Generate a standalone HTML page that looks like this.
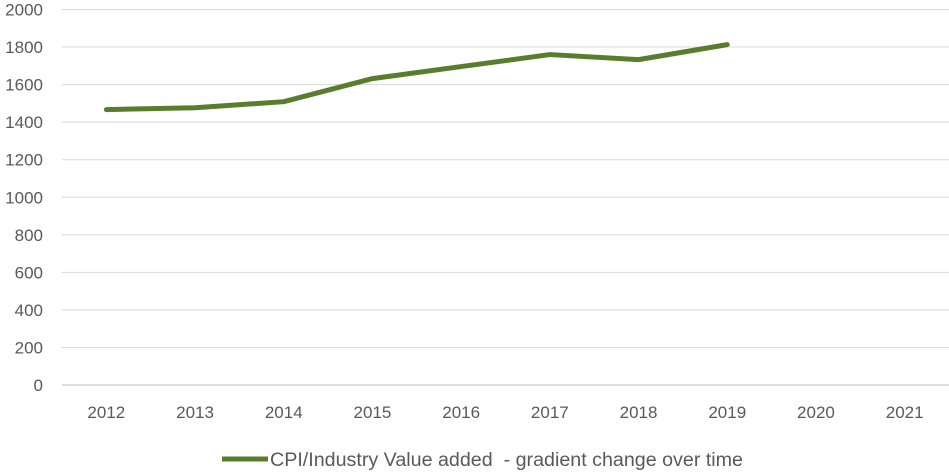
<!DOCTYPE html>
<html><head><meta charset="utf-8"><style>
html,body{margin:0;padding:0;background:#fff;}
svg text{font-family:"Liberation Sans",sans-serif;fill:#595959;font-size:17px;}
</style></head><body>
<svg id="chart" width="949" height="470"></svg>
<script>
const categories=["2012","2013","2014","2015","2016","2017","2018","2019","2020","2021"];
const seriesValues=[1467,1477,1509,1632,1696,1760,1733,1813];
const yTicks=[0,200,400,600,800,1000,1200,1400,1600,1800,2000];
const seriesName="CPI/Industry Value added  - gradient change over time";
const NS="http://www.w3.org/2000/svg";
const svg=document.getElementById('chart');
const x0=62,x1=949,y0=385,y1=9.5;
const band=(x1-x0)/categories.length;
const xs=i=>x0+band*(i+0.5);
const ys=v=>y0-(v/2000)*(y0-y1);
function mk(t,a){const e=document.createElementNS(NS,t);for(const k in a)e.setAttribute(k,a[k]);svg.appendChild(e);return e;}
yTicks.forEach(v=>{
  const l=mk('line',{x1:x0,x2:x1,y1:ys(v),y2:ys(v),stroke:v===0?'#bfbfbf':'#d9d9d9','stroke-width':1});
  
  
  const t=mk('text',{x:43,y:ys(v)+6,'text-anchor':'end'});t.textContent=v;
  
  
});
categories.forEach((c,i)=>{
  const t=mk('text',{x:xs(i),y:418,'text-anchor':'middle'});t.textContent=c;
  
  
});
const pts=seriesValues.map((v,i)=>xs(i)+','+ys(v)).join(' ');
const pl=mk('polyline',{points:pts,fill:'none',stroke:'#5a7d2d','stroke-width':5,'stroke-linejoin':'round','stroke-linecap':'round'});


const lg=mk('line',{x1:222,x2:268,y1:459,y2:459,stroke:'#5a7d2d','stroke-width':5});


const lt=mk('text',{x:270,y:466,textLength:473,lengthAdjust:'spacingAndGlyphs'});lt.textContent=seriesName;lt.style.whiteSpace='pre';lt.style.fontSize='19px';


</script>
</body></html>
